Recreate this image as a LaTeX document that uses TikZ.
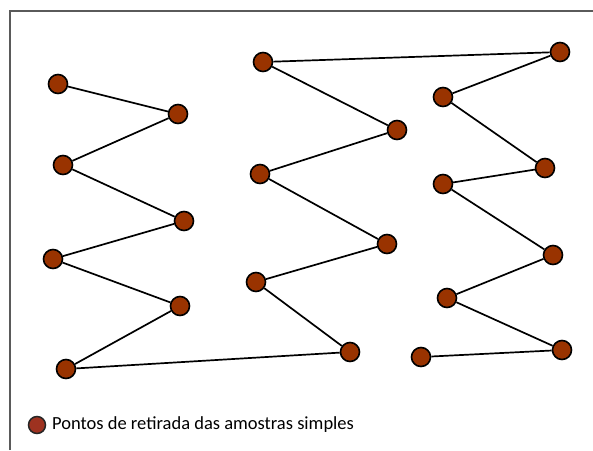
\documentclass[tikz,border=0pt]{standalone}
\usepackage{fontspec}
\setmainfont{Carlito}
\definecolor{ptfill}{RGB}{153,51,0}
\definecolor{legfill}{RGB}{158,50,32}
\definecolor{framegray}{RGB}{90,90,90}
\begin{document}
\begin{tikzpicture}[x=1pt,y=-1pt,
  pt/.style={circle,draw=black,line width=1.6pt,fill=ptfill,minimum size=19pt,inner sep=0pt},
  link/.style={line width=1.7pt}]
\useasboundingbox (0,0) rectangle (593,450);
% frame
\draw[framegray,line width=1.3pt] (10,450) -- (10,11) -- (593,11);
% sampling points
\node[pt] (p1) at (58,84) {};
\node[pt] (p2) at (178,114) {};
\node[pt] (p3) at (63,165) {};
\node[pt] (p4) at (184,221) {};
\node[pt] (p5) at (53,259) {};
\node[pt] (p6) at (180,306) {};
\node[pt] (p7) at (66,369) {};
\node[pt] (p8) at (350,352) {};
\node[pt] (p9) at (256,282) {};
\node[pt] (p10) at (387,244) {};
\node[pt] (p11) at (260,174) {};
\node[pt] (p12) at (397,130) {};
\node[pt] (p13) at (263,62) {};
\node[pt] (p14) at (560,52) {};
\node[pt] (p15) at (443,97) {};
\node[pt] (p16) at (545,168) {};
\node[pt] (p17) at (443,184) {};
\node[pt] (p18) at (553,255) {};
\node[pt] (p19) at (447,298) {};
\node[pt] (p20) at (562,350) {};
\node[pt] (p21) at (421,357) {};
% zigzag route between the points
\foreach \a/\b in {1/2,2/3,3/4,4/5,5/6,6/7,7/8,8/9,9/10,10/11,11/12,12/13,13/14,14/15,15/16,16/17,17/18,18/19,19/20,20/21}
  \draw[link] (p\a) -- (p\b);
% legend
\node[circle,draw=black!85,line width=1.5pt,fill=legfill,minimum size=17pt,inner sep=0pt] (leg) at (37,425) {};
\node[anchor=west,inner sep=0pt,font=\fontsize{18.5}{20}\selectfont] (legtxt) at (52,425) {Pontos de retirada das amostras simples};
\end{tikzpicture}
\end{document}
